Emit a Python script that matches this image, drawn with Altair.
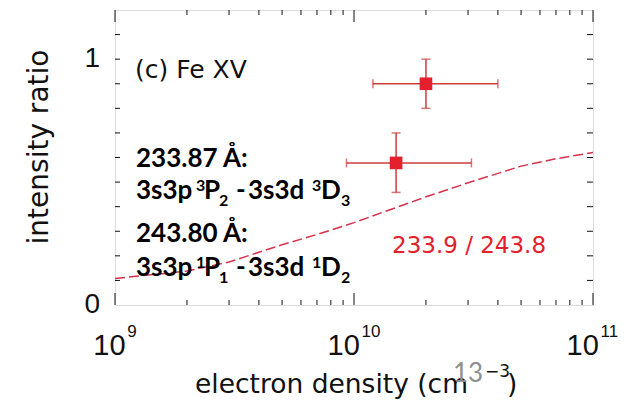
import altair as alt
import pandas as pd

# ---------------- data ----------------
curve_density = [1e9, 2e9, 3e9, 5e9, 7e9, 1e10, 2e10, 3e10, 5e10, 7e10, 1e11]
curve_ratio = [0.108, 0.138, 0.175, 0.245, 0.287, 0.335, 0.44, 0.497, 0.565, 0.595, 0.62]

obs_density = [2.0e10, 1.5e10]
obs_ratio = [0.90, 0.578]
obs_x_lo = [1.2e10, 9.3e9]
obs_x_hi = [4.0e10, 3.1e10]
obs_y_lo = [0.80, 0.458]
obs_y_hi = [1.00, 0.70]

x_major = [1e9, 1e10, 1e11]
x_major_exp = ["9", "10", "11"]
x_minor = [m * d for d in (1e9, 1e10) for m in range(2, 10)]
y_minor = [round(0.1 * i, 1) for i in range(1, 12)]
y_labels = [0, 1]

W, H = 478, 295
RED = "#e3202c"
BAR = "#cf3b3b"
CURVE = "#d8314a"

xs = alt.Scale(type="log", domain=[1e9, 1e11], nice=False)
ys = alt.Scale(domain=[0, 1.2], nice=False, zero=False)

curve_df = pd.DataFrame({"n": curve_density, "r": curve_ratio})
obs_df = pd.DataFrame({"n": obs_density, "r": obs_ratio, "xlo": obs_x_lo,
                       "xhi": obs_x_hi, "ylo": obs_y_lo, "yhi": obs_y_hi})

curve = alt.Chart(curve_df).mark_line(color=CURVE, strokeWidth=1.5, strokeDash=[10, 4]).encode(
    x=alt.X("n:Q", scale=xs, axis=None), y=alt.Y("r:Q", scale=ys, axis=None))

hbar = alt.Chart(obs_df).mark_rule(color=BAR, strokeWidth=1.5).encode(
    x=alt.X("xlo:Q", scale=xs), x2="xhi:Q", y=alt.Y("r:Q", scale=ys))
vbar = alt.Chart(obs_df).mark_rule(color=BAR, strokeWidth=1.5).encode(
    x=alt.X("n:Q", scale=xs), y=alt.Y("ylo:Q", scale=ys), y2="yhi:Q")
cap_xlo = alt.Chart(obs_df).mark_tick(color=BAR, thickness=1.5, size=9, orient="vertical").encode(
    x=alt.X("xlo:Q", scale=xs), y=alt.Y("r:Q", scale=ys))
cap_xhi = alt.Chart(obs_df).mark_tick(color=BAR, thickness=1.5, size=9, orient="vertical").encode(
    x=alt.X("xhi:Q", scale=xs), y=alt.Y("r:Q", scale=ys))
cap_ylo = alt.Chart(obs_df).mark_tick(color=BAR, thickness=1.5, size=9, orient="horizontal").encode(
    x=alt.X("n:Q", scale=xs), y=alt.Y("ylo:Q", scale=ys))
cap_yhi = alt.Chart(obs_df).mark_tick(color=BAR, thickness=1.5, size=9, orient="horizontal").encode(
    x=alt.X("n:Q", scale=xs), y=alt.Y("yhi:Q", scale=ys))
pts = alt.Chart(obs_df).mark_square(color=RED, size=160, opacity=1).encode(
    x=alt.X("n:Q", scale=xs), y=alt.Y("r:Q", scale=ys))

# ---------------- inward ticks ----------------
xmaj_df = pd.DataFrame({"n": x_major})
xmin_df = pd.DataFrame({"n": x_minor})
ymin_df = pd.DataFrame({"r": y_minor})


def xticks(df, length):
    b = alt.Chart(df).mark_rule(color="#111", strokeWidth=1).encode(
        x=alt.X("n:Q", scale=xs), y=alt.value(H), y2=alt.value(H - length))
    t = alt.Chart(df).mark_rule(color="#111", strokeWidth=1).encode(
        x=alt.X("n:Q", scale=xs), y=alt.value(0), y2=alt.value(length))
    return [b, t]


yt_l = alt.Chart(ymin_df).mark_rule(color="#111", strokeWidth=1).encode(
    y=alt.Y("r:Q", scale=ys), x=alt.value(0), x2=alt.value(5))
yt_r = alt.Chart(ymin_df).mark_rule(color="#111", strokeWidth=1).encode(
    y=alt.Y("r:Q", scale=ys), x=alt.value(W), x2=alt.value(W - 6))


# ---------------- text helpers ----------------
def txt(text, x, y, size, font="Liberation Sans", weight="normal", color="#111",
        align="left", baseline="alphabetic", angle=0):
    return alt.Chart(alt.Data(values=[{}])).mark_text(
        text=text, font=font, fontSize=size, fontWeight=weight, color=color,
        align=align, baseline=baseline, angle=angle).encode(
        x=alt.value(x), y=alt.value(y))


# y tick labels
ylab = alt.Chart(pd.DataFrame({"r": y_labels})).mark_text(
    font="Liberation Sans", fontSize=28, color="#111", align="right", baseline="middle", dx=-15
).encode(y=alt.Y("r:Q", scale=ys), x=alt.value(0), text="r:Q")

# x tick labels (10 with superscript exponent)
xlab_layers = []
for val, ex in zip(x_major, x_major_exp):
    wtot = 32 + 2 + 9.5 * len(ex)
    d = pd.DataFrame({"n": [val], "b": ["10"], "e": [ex]})
    xlab_layers.append(alt.Chart(d).mark_text(
        font="Liberation Sans", fontSize=29, color="#111", align="left", baseline="alphabetic",
        dx=-wtot / 2).encode(x=alt.X("n:Q", scale=xs), y=alt.value(H + 50), text="b:N"))
    xlab_layers.append(alt.Chart(d).mark_text(
        font="Liberation Sans", fontSize=17, color="#111", align="left", baseline="alphabetic",
        dx=-wtot / 2 + 34).encode(x=alt.X("n:Q", scale=xs), y=alt.value(H + 32), text="e:N"))

B = "Lato"
BS = 26   # bold main size
SS = 16   # sub/superscript size


def transition(sup, lo, up, base):
    """One '3s3p ^aP_b - 3s3d ^aD_c' line, baseline at `base`."""
    k = dict(font=B, weight="bold", color="black")
    return [
        txt("3s3p", 21, base, BS, **k),
        txt(sup, 81, base - 8, SS, **k),
        txt("P", 89, base, BS, **k),
        txt(lo, 104, base + 7, SS, **k),
        txt("-", 121, base, BS, **k),
        txt("3s3d", 133, base, BS, **k),
        txt(sup, 197, base - 8, SS, **k),
        txt("D", 206, base, BS, **k),
        txt(up, 226, base + 7, SS, **k),
    ]


texts = [
    txt("(c) Fe XV", 20, 68, 25, font="DejaVu Sans"),
    txt("233.87 Å:", 21, 157, BS, font=B, weight="bold", color="black"),
    *transition("3", "2", "3", 189),
    txt("243.80 Å:", 21, 232, BS, font=B, weight="bold", color="black"),
    *transition("1", "1", "2", 266),
    # curve label
    txt("233.9 / 243.8", 277, 243, 23, font="DejaVu Sans", color=RED),
    # axis titles
    txt("intensity ratio", -75, 137, 28, font="DejaVu Sans", align="center",
        baseline="middle", angle=270),
    txt("electron density (cm", 80, 383, 26.5, font="DejaVu Sans"),
    txt("\u22123", 370, 367, 17, font="DejaVu Sans"),
    txt(")", 392, 383, 26.5, font="DejaVu Sans"),
    txt("13", 338, 372, 26, font="Lato", color="#8f8f8f"),
]

layers = [curve, hbar, vbar, cap_xlo, cap_xhi, cap_ylo, cap_yhi, pts]
layers += xticks(xmaj_df, 12) + xticks(xmin_df, 5) + [yt_l, yt_r]
layers += [ylab] + xlab_layers + texts

chart = alt.layer(*layers).properties(
    width=W, height=H,
    autosize=alt.AutoSizeParams(type="none"),
    padding={"left": 115, "top": 10, "right": 31, "bottom": 100},
).configure_view(stroke="#111", strokeWidth=1.5).configure(background="white")

chart.save("out.html", embed_options={"renderer": "svg", "actions": False})
